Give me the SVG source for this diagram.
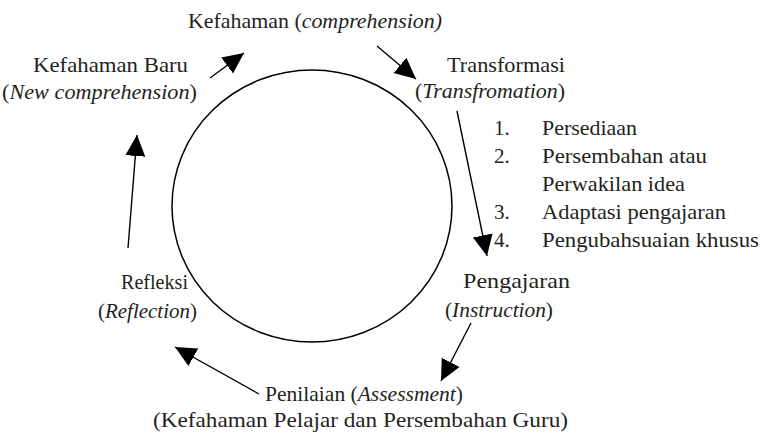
<svg xmlns="http://www.w3.org/2000/svg" width="761" height="433" viewBox="0 0 761 433">
<defs>
<style>
text{font-family:'Liberation Serif','DejaVu Serif',serif;font-size:21px;fill:#231f20}
.i{font-style:italic}
.c{fill:none;stroke:#000;stroke-width:1.5}
.a{stroke:#000;stroke-width:1.4;fill:none}
</style>
<marker id="ah" markerUnits="userSpaceOnUse" markerWidth="22" markerHeight="22" viewBox="0 0 22 22" refX="21" refY="11" orient="auto">
<path d="M0,1 L21,11 L0,21 Z" fill="#000"/>
</marker>
</defs>
<rect width="761" height="433" fill="#fff"/>
<g id="cycle"><ellipse class="c" cx="312" cy="206" rx="140" ry="136"/></g>
<g id="connectors">
<line class="a" x1="210" y1="78" x2="244" y2="53" marker-end="url(#ah)"/>
<line class="a" x1="377" y1="46" x2="416" y2="79" marker-end="url(#ah)"/>
<line class="a" x1="457" y1="111" x2="487" y2="256" marker-end="url(#ah)"/>
<line class="a" x1="471" y1="323" x2="441" y2="381" marker-end="url(#ah)"/>
<line class="a" x1="259" y1="394" x2="175" y2="347" marker-end="url(#ah)"/>
<line class="a" x1="128" y1="248" x2="137" y2="135" marker-end="url(#ah)"/>
</g>
<g id="kefahaman"><text x="188" y="28" textLength="254" lengthAdjust="spacingAndGlyphs">Kefahaman (<tspan class="i">comprehension)</tspan></text></g>
<g id="kefahaman-baru"><text x="33" y="72" textLength="155" lengthAdjust="spacingAndGlyphs">Kefahaman Baru</text><text x="2" y="99" textLength="195" lengthAdjust="spacingAndGlyphs">(<tspan class="i">New comprehension</tspan>)</text></g>
<g id="transformasi"><text x="447" y="72" textLength="118" lengthAdjust="spacingAndGlyphs">Transformasi</text><text x="415" y="98" textLength="150" lengthAdjust="spacingAndGlyphs">(<tspan class="i">Transfromation</tspan>)</text></g>
<g id="list">
<text x="494" y="135">1.</text><text x="542" y="135" textLength="95" lengthAdjust="spacingAndGlyphs">Persediaan</text>
<text x="494" y="163">2.</text><text x="542" y="163" textLength="165" lengthAdjust="spacingAndGlyphs">Persembahan atau</text>
<text x="542" y="191" textLength="143" lengthAdjust="spacingAndGlyphs">Perwakilan idea</text>
<text x="494" y="219">3.</text><text x="542" y="219" textLength="184" lengthAdjust="spacingAndGlyphs">Adaptasi pengajaran</text>
<text x="494" y="247">4.</text><text x="542" y="247" textLength="217" lengthAdjust="spacingAndGlyphs">Pengubahsuaian khusus</text>
</g>
<g id="pengajaran"><text x="463" y="288" textLength="107" lengthAdjust="spacingAndGlyphs">Pengajaran</text><text x="445" y="317" textLength="108" lengthAdjust="spacingAndGlyphs">(<tspan class="i">Instruction</tspan>)</text></g>
<g id="refleksi"><text x="121" y="289" textLength="67" lengthAdjust="spacingAndGlyphs">Refleksi</text><text x="98" y="318" textLength="99" lengthAdjust="spacingAndGlyphs">(<tspan class="i">Reflection</tspan>)</text></g>
<g id="penilaian"><text x="265" y="401" textLength="198" lengthAdjust="spacingAndGlyphs">Penilaian (<tspan class="i">Assessment</tspan>)</text><text x="153" y="427" textLength="415" lengthAdjust="spacingAndGlyphs">(Kefahaman Pelajar dan Persembahan Guru)</text></g>
</svg>
